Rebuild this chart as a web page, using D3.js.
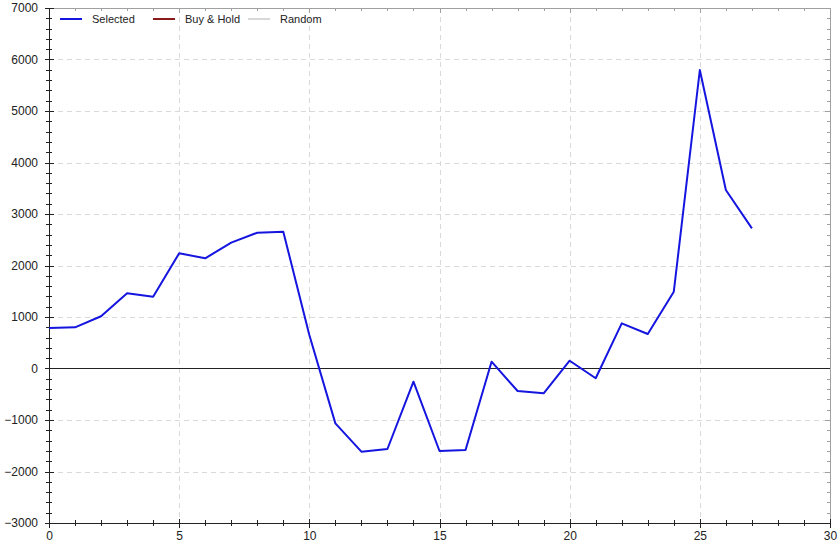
<!DOCTYPE html>
<html>
<head>
<meta charset="utf-8">
<script src="https://cdn.jsdelivr.net/npm/d3@7/dist/d3.min.js"></script>
<style>
  html, body { margin: 0; padding: 0; background: #fff; }
  svg { display: block; font-family: Arial, "Liberation Sans", sans-serif; }
</style>
</head>
<body>
<svg id="chart" width="840" height="546"></svg>
<script>
const xValues = [0,1,2,3,4,5,6,7,8,9,10,11,12,13,14,15,16,17,18,19,20,21,22,23,24,25,26,27];
const selected = [786,800,1015,1460,1394,2237,2140,2443,2637,2656,650,-1065,-1615,-1563,-256,-1602,-1583,132,-437,-482,151,-190,877,670,1491,5796,3466,2722];
const xTicks = [0,5,10,15,20,25,30];
const yTicks = [-3000,-2000,-1000,0,1000,2000,3000,4000,5000,6000,7000];
const legendNames = ["Selected","Buy & Hold","Random"];
const legendColors = ["#1515e0","#8b1a1a","#d8d8d8"];

const svg = d3.select("#chart");
const L = 49, R = 830, T = 8, B = 523;
const x = d3.scaleLinear().domain([0,30]).range([L,R]);
const y = d3.scaleLinear().domain([-3000,7000]).range([B,T]);

// grid
const grid = svg.append("g");
grid.selectAll("line.gx").data(xTicks.slice(1,-1)).join("line")
  .attr("x1", d => Math.round(x(d))+0.5).attr("x2", d => Math.round(x(d))+0.5)
  .attr("y1", T).attr("y2", B)
  .attr("stroke", "#d9d9d9").attr("stroke-dasharray", "5,4");
grid.selectAll("line.gy").data(yTicks.slice(1,-1).filter(d => d !== 0)).join("line")
  .attr("y1", d => Math.round(y(d))+0.5).attr("y2", d => Math.round(y(d))+0.5)
  .attr("x1", L).attr("x2", R)
  .attr("stroke", "#d9d9d9").attr("stroke-dasharray", "5,4");

// top & right frame (light)
svg.append("line").attr("x1", L).attr("x2", R).attr("y1", T+0.5).attr("y2", T+0.5).attr("stroke", "#a0a0a0");
svg.append("line").attr("x1", R+0.5).attr("x2", R+0.5).attr("y1", T).attr("y2", B).attr("stroke", "#a0a0a0");
// top ticks inward
const xMinor = d3.range(0, 31, 1);
const yMinor = d3.range(-3000, 7001, 200);
svg.append("g").selectAll("line").data(xMinor).join("line")
  .attr("x1", d => Math.round(x(d))+0.5).attr("x2", d => Math.round(x(d))+0.5)
  .attr("y1", T).attr("y2", d => T + (d % 5 === 0 ? 5 : 3))
  .attr("stroke", "#a0a0a0");
svg.append("g").selectAll("line").data(yMinor).join("line")
  .attr("y1", d => Math.round(y(d))+0.5).attr("y2", d => Math.round(y(d))+0.5)
  .attr("x1", R).attr("x2", d => R - (d % 1000 === 0 ? 5 : 3))
  .attr("stroke", "#a0a0a0");

// zero line
svg.append("line").attr("x1", L).attr("x2", R)
  .attr("y1", Math.round(y(0))+0.5).attr("y2", Math.round(y(0))+0.5)
  .attr("stroke", "#222");

// bottom axis
const xAxis = d3.axisBottom(x).tickValues(xTicks).tickSize(0).tickPadding(8).tickFormat(d3.format("d"));
const gx = svg.append("g").attr("transform", `translate(0,${B})`).call(xAxis);
gx.select(".domain").attr("stroke", "#222").attr("d", `M${L},0.5H${R}`);
gx.selectAll("text").attr("font-size", 12).attr("fill", "#222").attr("font-family", "Arial, 'Liberation Sans', sans-serif");
svg.append("g").selectAll("line").data(xMinor).join("line")
  .attr("x1", d => Math.round(x(d))+0.5).attr("x2", d => Math.round(x(d))+0.5)
  .attr("y1", d => B - (d % 5 === 0 ? 4 : 3)).attr("y2", d => B + (d % 5 === 0 ? 5 : 3))
  .attr("stroke", "#222");

// left axis
const yAxis = d3.axisLeft(y).tickValues(yTicks).tickSize(0).tickPadding(11).tickFormat(d3.format("d"));
const gy = svg.append("g").attr("transform", `translate(${L},0)`).call(yAxis);
gy.select(".domain").attr("stroke", "#222").attr("d", `M0.5,${T}V${B}`);
gy.selectAll("text").attr("font-size", 12).attr("fill", "#222").attr("font-family", "Arial, 'Liberation Sans', sans-serif");
svg.append("g").selectAll("line").data(yMinor).join("line")
  .attr("y1", d => Math.round(y(d))+0.5).attr("y2", d => Math.round(y(d))+0.5)
  .attr("x1", d => L - (d % 1000 === 0 ? 4 : 3)).attr("x2", d => L + (d % 1000 === 0 ? 5 : 3))
  .attr("stroke", "#222");

// series
const line = d3.line().x((d,i) => x(xValues[i])).y(d => y(d));
svg.append("path").datum(selected).attr("d", line)
  .attr("fill", "none").attr("stroke", legendColors[0]).attr("stroke-width", 2)
  .attr("stroke-linejoin", "round");

// legend
const legendX = [60, 153, 248];
const lg = svg.append("g");
legendNames.forEach((name, i) => {
  lg.append("line").attr("x1", legendX[i]).attr("x2", legendX[i] + 22)
    .attr("y1", 19).attr("y2", 19)
    .attr("stroke", legendColors[i]).attr("stroke-width", 2);
  lg.append("text").attr("x", legendX[i] + 32).attr("y", 23)
    .attr("font-size", 11).attr("fill", "#222").text(name);
});
</script>
</body>
</html>
